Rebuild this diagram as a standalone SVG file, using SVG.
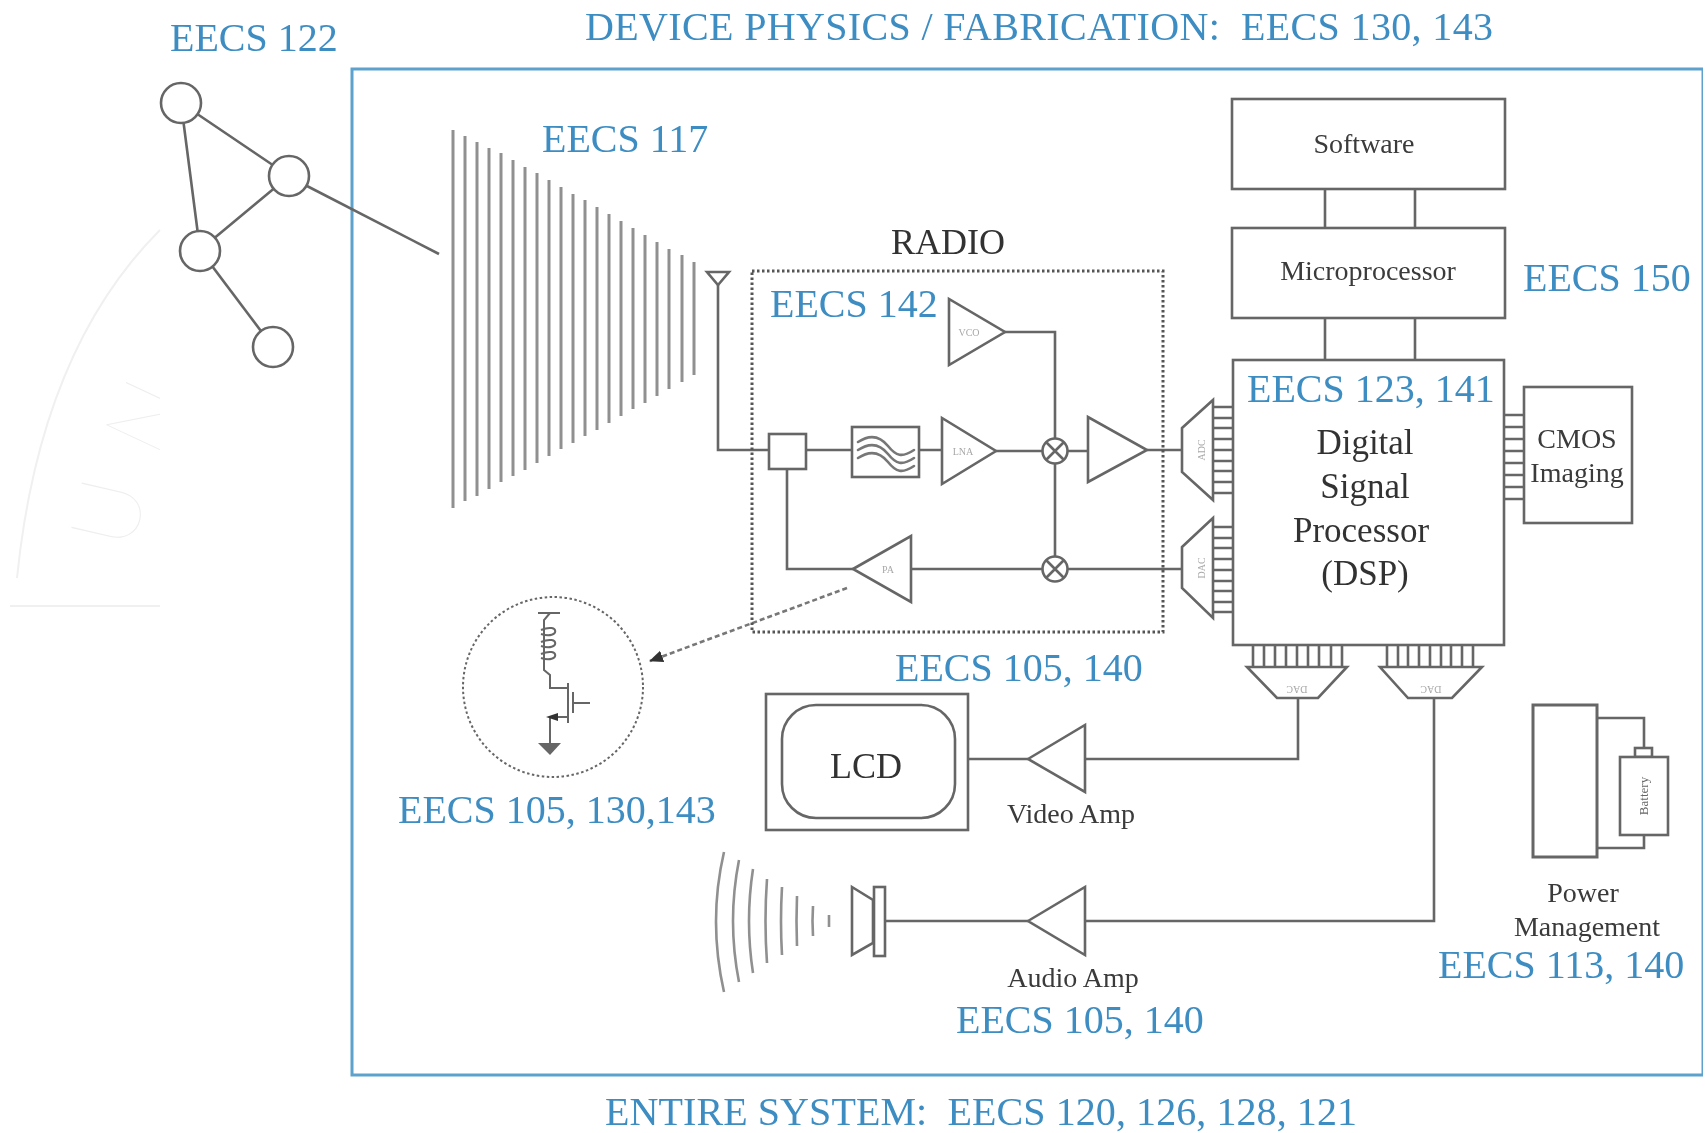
<svg xmlns="http://www.w3.org/2000/svg" width="1705" height="1133" viewBox="0 0 1705 1133">
<style>
text{font-family:"Liberation Serif","Times New Roman",serif;white-space:pre}
.b{fill:#3c8dc3;font-size:40px}
.k{fill:#3a3a3a;font-size:28px;text-anchor:middle}
.d{fill:#333;font-size:36px;text-anchor:middle}
.s{fill:#a8a8a8;font-size:10px;text-anchor:middle}
.l,.l *{fill:none;stroke:#666;stroke-width:2.6}
.t,.t *{fill:#fff;stroke:#666;stroke-width:2.6}
.h{stroke:#909090;stroke-width:3;fill:none}
.a{fill:none;stroke:#777;stroke-width:2.6;stroke-linecap:round}
.w{fill:none;stroke:#f0f0f0;stroke-width:2}
.m{font-size:92px;fill:#eeeeee;font-family:"Lato","Liberation Sans",sans-serif;font-weight:100}
</style>
<defs>
<filter id="soft" x="0" y="0" width="100%" height="100%"><feGaussianBlur stdDeviation="0.7"/></filter>
<clipPath id="wm"><rect x="0" y="200" width="160" height="420"/></clipPath>
<marker id="ah" markerWidth="16" markerHeight="14" refX="13" refY="6" orient="auto" markerUnits="userSpaceOnUse"><path d="M0,0L14,6L0,12Z" fill="#333"/></marker>
</defs>
<rect width="1705" height="1133" fill="#fff"/>
<g id="diagram" filter="url(#soft)">
<g id="watermark">
<path class="w" d="M160,230Q40,350 17,578"/>
<path class="w" d="M10,606H160"/>
<g clip-path="url(#wm)">
<text class="m" transform="translate(132,552) rotate(-77)">U</text>
<text class="m" transform="translate(160,462) rotate(-65)">N</text>
<text class="m" transform="translate(215,345) rotate(-58)">I</text>
</g>
</g>
<rect id="system-frame" x="352" y="69" width="1351" height="1006" fill="none" stroke="#5ba2cc" stroke-width="3"/>

<g id="connectors" class="l">
<path d="M307,186L439,254"/>
<path d="M718,285V450H769M806,450H852M919,450H942M996,451H1042M1068,451H1088M1147,450H1182"/>
<path d="M1005,332H1055V556M1055,464V556"/>
<path d="M1182,569H1068M1042,569H911M853,569H787V469"/>
<path d="M1298,698V759H1085M1028,759H968"/>
<path d="M1434,698V921H1085M1028,921H885"/>
<path d="M1325,189V228M1415,189V228M1325,318V360M1415,318V360"/>
<path d="M1213,407H1233M1213,418H1233M1213,428H1233M1213,439H1233M1213,450H1233M1213,461H1233M1213,471H1233M1213,482H1233M1213,493H1233"/>
<path d="M1213,527H1233M1213,538H1233M1213,548H1233M1213,559H1233M1213,570H1233M1213,581H1233M1213,591H1233M1213,602H1233M1213,612H1233"/>
<path d="M1504,415H1527M1504,427H1527M1504,439H1527M1504,451H1527M1504,463H1527M1504,475H1527M1504,487H1527M1504,499H1527"/>
<path d="M1253,645V667M1264,645V667M1275,645V667M1286,645V667M1297,645V667M1308,645V667M1319,645V667M1331,645V667M1342,645V667"/>
<path d="M1387,645V667M1398,645V667M1408,645V667M1419,645V667M1430,645V667M1441,645V667M1451,645V667M1462,645V667M1473,645V667"/>
<path d="M200,250L273,347"/>
<path d="M181,103L200,250M181,103L289,176M289,176L200,250"/>
<path d="M1597,718H1644V748M1597,848H1644V835"/>
<path d="M847,588L650,661" stroke-dasharray="5 3" marker-end="url(#ah)" style="stroke:#777"/>
</g>

<g id="network" class="t">
<circle id="net-a" cx="181" cy="103" r="20"/>
<circle id="net-b" cx="289" cy="176" r="20"/>
<circle id="net-c" cx="200" cy="251" r="20"/>
<circle id="net-d" cx="273" cy="347" r="20"/>
</g>
<g id="horn" class="h">
<path d="M453,130V508M465,136V501M477,142V496M489,148V489M501,153V482M513,160V476M525,167V470M537,173V463M549,180V456M561,187V449M573,194V443M585,200V436M597,207V430M609,214V423M621,221V416M633,228V409M645,235V403M657,242V396M669,249V389M682,255V382M694,262V375"/>
</g>
<text id="lbl-117" class="b" x="542" y="152">EECS 117</text>
<text id="lbl-122" class="b" x="170" y="51">EECS 122</text>
<text id="lbl-top" class="b" x="585" y="40" textLength="908">DEVICE PHYSICS / FABRICATION:  EECS 130, 143</text>
<text id="lbl-bottom" class="b" x="605" y="1125" textLength="752">ENTIRE SYSTEM:  EECS 120, 126, 128, 121</text>

<g id="antenna" class="l"><path d="M707,272H729L718,285Z"/></g>
<g id="radio">
<rect x="752" y="271" width="411" height="361" fill="none" stroke="#555" stroke-width="3" stroke-dasharray="2.5 2.5"/>
<text class="d" x="948" y="254">RADIO</text>
<text class="b" x="770" y="317">EECS 142</text>
</g>
<g id="duplexer" class="t"><rect x="769" y="434" width="37" height="35"/></g>
<g id="filter">
<rect x="852" y="427" width="67" height="50" fill="#fff" stroke="#666" stroke-width="2.6"/>
<path class="a" d="M858,442C870,434 880,436 888,446S902,458 914,450M858,450C870,442 880,444 888,454S902,466 914,458M858,458C870,450 880,452 888,462S902,474 914,466"/>
</g>
<g id="lna" class="t"><path d="M942,418V484L996,451Z"/><text class="s" style="stroke:none;fill:#a8a8a8" x="963" y="455">LNA</text></g>
<g id="vco" class="t"><path d="M949,299V365L1005,332Z"/><text class="s" style="stroke:none;fill:#a8a8a8" x="969" y="336">VCO</text></g>
<g id="if-amp" class="t"><path d="M1088,417V482L1147,450Z"/></g>
<g id="pa" class="t"><path d="M853,569L911,536V602Z"/><text class="s" style="stroke:none;fill:#a8a8a8" x="888" y="573">PA</text></g>
<g id="mixer-rx" class="t"><circle cx="1055" cy="451" r="12.5"/><path d="M1046,442L1064,460M1064,442L1046,460"/></g>
<g id="mixer-tx" class="t"><circle cx="1055" cy="569" r="12.5"/><path d="M1046,560L1064,578M1064,560L1046,578"/></g>
<g id="adc" class="t"><path d="M1182,428L1213,400V500L1182,472Z"/><text class="s" style="stroke:none;fill:#a8a8a8" transform="translate(1202,450) rotate(-90)" x="0" y="3">ADC</text></g>
<g id="dac-tx" class="t"><path d="M1182,547L1213,518V618L1182,588Z"/><text class="s" style="stroke:none;fill:#a8a8a8" transform="translate(1202,568) rotate(-90)" x="0" y="3">DAC</text></g>
<g id="dac-video" class="t"><path d="M1247,667H1347L1318,698H1277Z"/><text class="s" style="stroke:none;fill:#a8a8a8" transform="translate(1297,683) rotate(180)" x="0" y="-3">DAC</text></g>
<g id="dac-audio" class="t"><path d="M1380,667H1482L1452,698H1408Z"/><text class="s" style="stroke:none;fill:#a8a8a8" transform="translate(1431,683) rotate(180)" x="0" y="-3">DAC</text></g>

<g id="software"><rect class="t" x="1232" y="99" width="273" height="90"/><text class="k" x="1364" y="153">Software</text></g>
<g id="microprocessor"><rect class="t" x="1232" y="228" width="273" height="90"/><text class="k" x="1368" y="280">Microprocessor</text></g>
<text id="lbl-150" class="b" x="1523" y="291">EECS 150</text>
<g id="dsp">
<rect class="t" x="1233" y="360" width="271" height="285"/>
<text class="b" x="1247" y="402">EECS 123, 141</text>
<text class="d" style="font-size:35px" x="1365" y="454">Digital</text>
<text class="d" style="font-size:35px" x="1365" y="498">Signal</text>
<text class="d" style="font-size:35px" x="1361" y="542">Processor</text>
<text class="d" style="font-size:35px" x="1365" y="585">(DSP)</text>
</g>
<g id="cmos"><rect class="t" x="1524" y="387" width="108" height="136"/><text class="k" x="1577" y="448">CMOS</text><text class="k" x="1577" y="482">Imaging</text></g>
<text id="lbl-105-140-a" class="b" x="895" y="681">EECS 105, 140</text>

<g id="lcd">
<rect class="t" x="766" y="694" width="202" height="136"/>
<rect class="t" x="782" y="705" width="173" height="113" rx="34"/>
<text class="d" x="866" y="778">LCD</text>
</g>
<g id="video-amp" class="t"><path d="M1028,759L1085,725V792Z"/></g>
<text id="lbl-video" class="k" x="1071" y="823">Video Amp</text>
<g id="audio-amp" class="t"><path d="M1028,921L1085,887V955Z"/></g>
<text id="lbl-audio" class="k" x="1073" y="987">Audio Amp</text>
<text id="lbl-105-140-b" class="b" x="956" y="1033">EECS 105, 140</text>
<g id="speaker" class="l">
<path d="M852,887L873,900V943L852,955Z"/>
<rect x="874" y="887" width="11" height="69"/>
</g>
<g id="sound" class="h" style="stroke-width:2.6">
<path d="M724,852Q708,921 724,992M739,860Q727,921 739,982M753,869Q745,921 753,973M767,879Q764,921 767,963M782,887Q780,921 782,955M797,896Q796,921 797,946M813,906Q812,921 813,936M829,915V927"/>
</g>

<g id="power">
<rect class="t" x="1533" y="705" width="64" height="152" style="stroke-width:3"/>
<rect class="t" x="1635" y="748" width="17" height="9"/>
<rect class="t" x="1620" y="757" width="48" height="78"/>
<text class="s" style="fill:#666;font-size:13px" transform="translate(1644,796) rotate(-90)" x="0" y="4">Battery</text>
<text class="k" x="1583" y="902">Power</text>
<text class="k" x="1587" y="936">Management</text>
</g>
<text id="lbl-113" class="b" x="1438" y="978">EECS 113, 140</text>

<g id="pa-detail">
<circle cx="553" cy="687" r="90" fill="none" stroke="#666" stroke-width="2" stroke-dasharray="2.5 2.5"/>
<g class="l">
<path style="stroke-width:2" d="M538,613H560M550,613L544,620V670L550,675V688H568M568,683V723M573,692V713M573,703H590M568,717H550V743"/>
<path style="stroke-width:2" d="M541,630C560,622 560,640 541,634M541,642C560,634 560,652 541,646M541,654C560,646 560,664 541,658"/>
</g>
<path d="M558,713L546,717L558,721Z" fill="#333"/>
<path d="M538,743H561L550,755Z" fill="#666"/>
<text class="b" x="398" y="823">EECS 105, 130,143</text>
</g>
</g>
</svg>
